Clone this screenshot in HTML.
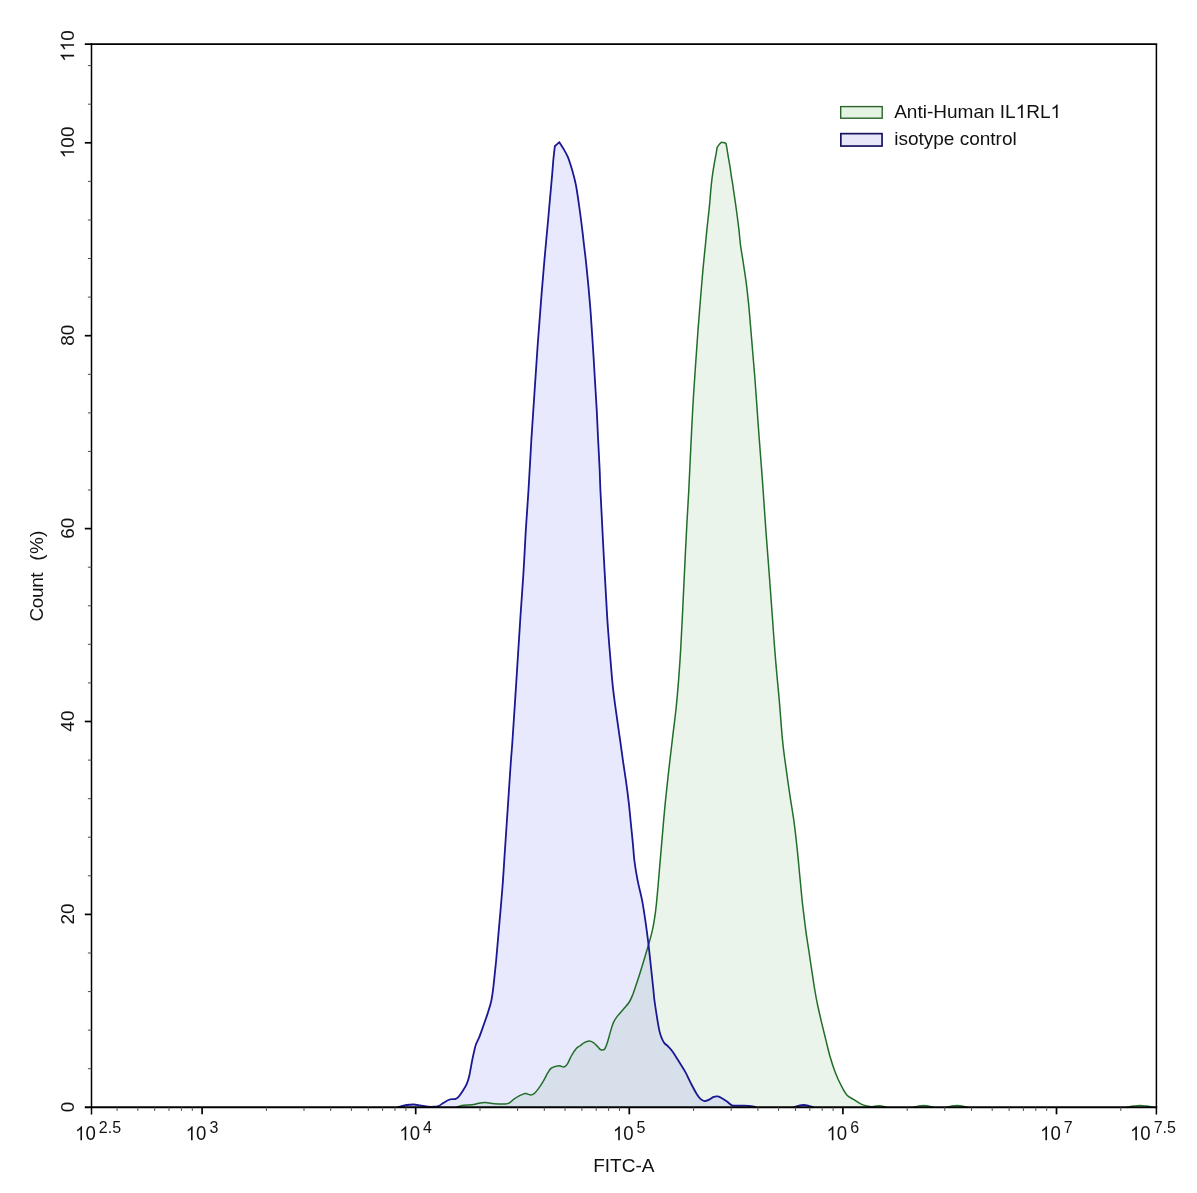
<!DOCTYPE html>
<html>
<head>
<meta charset="utf-8">
<title>FITC-A histogram</title>
<style>
html,body{margin:0;padding:0;background:#fff;}
body{width:1197px;height:1193px;overflow:hidden;font-family:"Liberation Sans",sans-serif;}
svg{display:block;will-change:transform;transform:translateZ(0);}
text{font-family:"Liberation Sans",sans-serif;}
</style>
</head>
<body>
<svg width="1197" height="1193" viewBox="0 0 1197 1193">
<rect width="1197" height="1193" fill="#fff"/>
<path d="M456.8 1107.0C457.9 1106.7 461.0 1105.7 463.5 1105.3C466.0 1104.9 469.4 1105.1 471.9 1104.8C474.4 1104.5 476.5 1103.7 478.6 1103.3C480.7 1102.9 482.4 1102.4 484.4 1102.4C486.3 1102.4 487.9 1103.0 490.3 1103.3C492.7 1103.6 496.1 1103.9 498.6 1104.0C501.1 1104.1 503.5 1104.2 505.3 1104.0C507.1 1103.8 508.1 1103.6 509.5 1102.8C510.9 1102.0 512.1 1100.5 513.6 1099.4C515.1 1098.3 517.0 1097.0 518.7 1096.1C520.4 1095.2 522.5 1094.3 523.7 1093.9C525.0 1093.5 525.1 1093.4 526.2 1093.6C527.3 1093.8 529.1 1094.9 530.4 1094.9C531.6 1095.0 532.5 1094.8 533.7 1093.9C535.0 1093.0 536.4 1091.4 537.9 1089.4C539.4 1087.4 541.2 1084.7 542.9 1081.9C544.6 1079.1 546.5 1075.0 547.9 1072.7C549.3 1070.4 550.0 1069.2 551.2 1068.2C552.5 1067.2 554.0 1066.8 555.4 1066.4C556.8 1066.0 558.2 1065.6 559.6 1065.7C561.0 1065.8 562.5 1067.1 563.8 1066.9C565.0 1066.7 565.9 1066.2 567.1 1064.4C568.4 1062.6 569.8 1058.7 571.3 1056.0C572.8 1053.3 574.8 1050.2 576.3 1048.5C577.8 1046.8 579.2 1046.5 580.5 1045.5C581.8 1044.5 582.8 1043.3 584.2 1042.6C585.7 1041.8 587.7 1041.0 589.2 1041.0C590.7 1041.0 592.0 1041.7 593.4 1042.6C594.8 1043.5 596.2 1045.3 597.5 1046.5C598.8 1047.7 599.7 1049.4 600.9 1049.8C602.1 1050.2 603.6 1050.3 604.7 1049.0C605.8 1047.7 606.6 1045.0 607.6 1041.8C608.6 1038.6 609.9 1033.3 610.9 1030.1C611.9 1026.9 612.3 1025.0 613.4 1022.6C614.5 1020.2 615.9 1018.1 617.6 1015.9C619.3 1013.7 621.5 1011.5 623.4 1009.2C625.3 1006.9 627.8 1004.4 629.3 1002.0C630.8 999.6 631.8 997.0 632.6 995.0C633.5 993.0 633.0 994.1 634.4 990.0C635.8 985.9 638.6 977.6 640.8 970.5C643.0 963.4 645.8 954.1 647.7 947.5C649.6 940.9 651.0 936.7 652.3 930.7C653.6 924.8 654.5 919.1 655.5 911.8C656.5 904.5 657.2 895.4 658.0 886.7C658.8 878.0 659.5 868.8 660.3 859.4C661.1 850.0 661.9 840.6 662.8 830.1C663.7 819.6 664.8 807.1 665.9 796.6C667.0 786.1 668.0 776.6 669.1 767.2C670.2 757.8 671.2 749.5 672.3 740.0C673.4 730.5 674.8 720.2 675.9 710.0C677.0 699.8 677.9 689.1 678.7 678.6C679.5 668.1 680.2 657.7 680.8 647.2C681.4 636.7 681.9 626.2 682.4 615.7C682.9 605.2 683.4 594.8 683.9 584.3C684.4 573.8 684.9 563.4 685.4 552.9C685.9 542.4 686.4 531.9 687.0 521.4C687.6 510.9 688.2 502.0 688.8 490.0C689.4 478.0 690.0 463.3 690.7 449.6C691.4 435.9 692.0 421.6 692.8 407.6C693.6 393.6 694.6 378.6 695.5 365.7C696.4 352.8 697.2 341.3 698.0 330.1C698.8 318.9 699.7 308.5 700.5 298.7C701.3 288.9 702.0 280.3 702.8 271.4C703.6 262.4 704.7 252.0 705.4 245.0C706.1 238.0 706.2 236.2 706.9 229.4C707.6 222.6 709.0 211.0 709.6 204.4C710.2 197.8 710.4 194.4 710.8 190.0C711.2 185.6 711.6 181.5 712.1 177.8C712.6 174.1 713.1 170.8 713.6 167.7C714.1 164.6 714.6 161.8 715.1 159.2C715.6 156.6 716.1 154.0 716.4 152.1C716.7 150.2 717.0 148.3 717.1 147.6C717.4 147.1 718.4 145.5 719.1 144.6C719.8 143.7 721.0 142.7 721.4 142.3C721.8 142.4 722.9 142.4 723.7 142.6C724.5 142.8 725.7 143.5 726.1 143.7C726.3 144.8 726.8 147.7 727.2 150.1C727.6 152.5 728.0 155.4 728.5 158.2C729.0 161.0 729.5 163.8 730.0 166.7C730.5 169.5 730.8 172.6 731.2 175.3C731.6 178.0 732.1 180.4 732.5 182.8C732.9 185.2 732.9 185.7 733.5 190.0C734.1 194.3 735.3 201.9 736.2 208.5C737.1 215.1 738.2 223.3 738.9 229.4C739.6 235.5 739.8 239.7 740.5 245.0C741.2 250.3 742.1 254.8 743.0 261.0C743.9 267.1 745.2 274.9 746.1 281.9C747.0 288.9 747.7 295.2 748.5 302.9C749.3 310.6 750.0 319.6 750.7 328.0C751.4 336.4 752.1 344.8 752.8 353.2C753.5 361.6 754.2 369.2 754.9 378.3C755.6 387.4 756.3 397.8 757.0 407.6C757.7 417.4 758.4 427.6 759.1 437.0C759.8 446.4 760.5 455.4 761.2 464.2C761.9 473.0 762.3 478.7 763.1 490.0C763.9 501.3 765.0 517.9 766.0 531.9C767.0 545.9 768.2 559.8 769.2 573.8C770.2 587.8 771.3 601.7 772.3 615.7C773.3 629.7 774.2 643.6 775.4 657.6C776.5 671.6 778.0 685.9 779.2 699.6C780.4 713.3 781.4 728.7 782.5 740.0C783.6 751.3 784.6 757.8 785.9 767.2C787.2 776.6 788.7 787.2 790.1 796.6C791.5 806.0 793.1 814.7 794.3 823.8C795.5 832.9 796.4 842.0 797.4 851.1C798.4 860.2 799.1 869.2 800.0 878.3C800.9 887.4 801.7 896.8 802.7 905.5C803.7 914.2 804.8 923.0 805.8 930.7C806.8 938.4 808.0 944.7 809.0 951.7C810.0 958.7 811.1 966.2 812.1 972.6C813.1 979.0 813.9 984.6 814.8 990.0C815.7 995.4 816.4 999.4 817.6 1005.0C818.8 1010.6 820.4 1017.5 821.8 1023.4C823.2 1029.2 824.5 1034.5 825.9 1040.1C827.3 1045.7 828.6 1051.5 830.1 1056.8C831.6 1062.1 833.3 1067.2 835.1 1071.9C836.9 1076.6 839.0 1081.4 841.0 1085.2C843.0 1089.0 844.7 1092.5 846.8 1094.9C848.9 1097.3 851.3 1098.0 853.5 1099.4C855.7 1100.9 858.0 1102.5 860.2 1103.6C862.4 1104.7 864.9 1105.6 866.9 1106.1C868.9 1106.6 870.0 1106.8 872.0 1106.8C874.0 1106.8 876.3 1105.8 878.6 1105.8C880.9 1105.8 884.8 1106.8 886.0 1107.0L886.0 1107.3 L456.8 1107.3 Z" fill="rgba(45,150,45,0.10)" stroke="none"/>
<path d="M914.0 1107.2C914.8 1107.0 917.4 1106.3 919.0 1106.0C920.6 1105.7 922.2 1105.5 923.7 1105.5C925.2 1105.5 926.5 1105.7 928.0 1106.0C929.5 1106.3 932.2 1107.0 933.0 1107.2L933.0 1107.3 L914.0 1107.3 Z" fill="rgba(45,150,45,0.10)" stroke="none"/>
<path d="M947.0 1107.2C947.8 1107.0 950.3 1106.3 952.0 1106.0C953.7 1105.7 955.4 1105.5 957.1 1105.5C958.8 1105.5 960.4 1105.7 962.0 1106.0C963.6 1106.3 966.2 1107.0 967.0 1107.2L967.0 1107.3 L947.0 1107.3 Z" fill="rgba(45,150,45,0.10)" stroke="none"/>
<path d="M1127.0 1107.2C1128.2 1107.0 1131.8 1106.3 1134.0 1106.0C1136.2 1105.7 1138.0 1105.4 1140.0 1105.4C1142.0 1105.4 1143.8 1105.7 1146.0 1106.0C1148.2 1106.3 1151.8 1107.0 1153.0 1107.2L1153.0 1107.3 L1127.0 1107.3 Z" fill="rgba(45,150,45,0.10)" stroke="none"/>
<path d="M398.4 1107.0C399.8 1106.7 404.2 1105.4 406.7 1105.0C409.2 1104.6 411.2 1104.5 413.4 1104.5C415.6 1104.5 417.9 1105.0 420.0 1105.3C422.1 1105.6 423.9 1106.2 425.9 1106.5C427.9 1106.8 429.9 1106.9 432.0 1106.8C434.1 1106.7 436.6 1106.8 438.5 1106.1C440.4 1105.4 441.8 1103.8 443.5 1102.8C445.2 1101.8 447.1 1100.6 448.5 1100.0C449.9 1099.4 450.7 1099.2 451.8 1099.1C452.9 1098.9 454.1 1099.5 455.2 1099.1C456.3 1098.7 457.2 1098.2 458.5 1096.9C459.8 1095.6 461.3 1093.3 462.7 1091.1C464.1 1088.9 465.8 1086.2 466.9 1083.6C468.0 1080.9 468.6 1078.8 469.4 1075.2C470.2 1071.6 471.1 1066.0 471.9 1061.8C472.7 1057.6 473.7 1053.1 474.4 1050.2C475.1 1047.3 475.2 1046.5 476.0 1044.3C476.8 1042.1 478.1 1040.0 479.4 1036.8C480.7 1033.6 482.2 1029.0 483.6 1025.1C485.0 1021.2 486.4 1017.3 487.7 1013.4C488.9 1009.5 490.2 1005.6 491.1 1001.7C492.0 997.8 492.1 997.0 493.0 990.0C493.9 983.0 495.1 970.9 496.2 960.0C497.2 949.1 498.2 936.6 499.3 924.4C500.4 912.2 501.6 898.2 502.5 886.7C503.4 875.2 503.9 865.8 504.6 855.3C505.3 844.8 506.0 834.3 506.7 823.8C507.4 813.3 508.1 802.9 508.8 792.4C509.5 781.9 510.3 769.7 510.9 761.0C511.5 752.3 511.6 753.7 512.5 740.0C513.4 726.3 515.2 699.3 516.5 678.6C517.8 657.9 519.4 633.2 520.5 615.7C521.6 598.2 522.5 587.8 523.4 573.8C524.3 559.8 524.9 545.9 525.7 531.9C526.6 517.9 527.5 505.5 528.5 490.0C529.5 474.5 530.4 455.6 531.4 439.1C532.4 422.6 533.5 406.6 534.6 390.9C535.7 375.2 536.7 359.5 537.7 344.8C538.8 330.1 539.9 316.2 540.9 302.9C541.9 289.6 543.2 274.8 544.0 265.1C544.8 255.5 545.1 252.7 545.8 245.0C546.5 237.3 547.4 228.2 548.2 219.0C549.0 209.8 550.1 197.3 550.8 190.0C551.4 182.7 551.7 179.9 552.1 175.3C552.5 170.8 552.8 166.5 553.1 162.7C553.4 158.9 553.8 155.4 554.1 152.6C554.4 149.8 554.8 147.2 554.9 146.1C555.6 145.5 558.6 142.9 559.4 142.3C560.1 143.4 562.3 146.7 563.7 149.1C565.1 151.5 566.5 154.0 567.7 156.7C568.9 159.4 569.8 162.3 570.7 165.2C571.6 168.0 572.5 171.0 573.2 173.8C574.0 176.6 574.6 179.1 575.2 181.8C575.8 184.5 576.1 185.6 576.8 190.0C577.5 194.4 578.6 201.9 579.5 208.5C580.4 215.1 581.5 223.3 582.2 229.4C583.0 235.5 583.4 239.7 584.0 245.0C584.6 250.3 585.2 254.2 585.9 261.0C586.6 267.9 587.6 277.4 588.4 286.1C589.2 294.8 590.0 303.5 590.7 313.3C591.4 323.1 592.1 334.3 592.8 344.8C593.5 355.3 594.1 365.7 594.7 376.2C595.3 386.7 596.0 397.1 596.6 407.6C597.2 418.1 597.6 429.3 598.1 439.1C598.6 448.9 599.1 457.8 599.5 466.3C599.9 474.8 600.0 480.8 600.4 490.0C600.8 499.2 601.5 510.9 602.0 521.4C602.5 531.9 603.0 541.4 603.6 552.9C604.2 564.4 605.0 578.4 605.7 590.6C606.4 602.8 607.0 615.0 607.8 626.2C608.6 637.4 609.4 647.1 610.3 657.6C611.2 668.1 611.9 678.6 613.1 689.1C614.3 699.6 616.1 712.0 617.3 720.5C618.5 729.0 619.1 733.2 620.1 740.0C621.1 746.8 622.0 754.0 623.0 761.0C624.0 768.0 625.1 774.9 626.1 781.9C627.1 788.9 628.0 795.9 628.8 802.9C629.6 809.9 630.2 816.8 630.9 823.8C631.6 830.8 632.4 838.5 633.0 844.8C633.6 851.1 633.7 855.6 634.5 861.5C635.3 867.4 636.3 873.8 637.6 880.4C638.9 887.0 641.0 894.4 642.3 901.4C643.6 908.4 644.6 915.7 645.6 922.3C646.6 928.9 647.3 934.9 648.1 941.2C648.9 947.5 649.3 951.9 650.2 960.0C651.1 968.1 652.7 983.3 653.4 990.0C654.1 996.7 653.8 995.5 654.4 1000.0C655.0 1004.5 656.1 1011.6 656.9 1016.7C657.7 1021.9 658.6 1027.3 659.4 1030.9C660.2 1034.5 661.1 1036.5 661.9 1038.5C662.7 1040.5 663.3 1041.7 664.4 1043.1C665.5 1044.5 667.2 1045.3 668.6 1046.8C670.0 1048.2 671.0 1049.4 672.7 1051.8C674.4 1054.2 676.5 1057.7 678.6 1061.0C680.7 1064.3 683.1 1067.9 685.3 1071.9C687.5 1075.9 689.9 1081.5 691.9 1085.2C693.9 1089.0 695.5 1092.0 697.0 1094.4C698.5 1096.8 699.9 1098.3 701.1 1099.4C702.4 1100.5 703.2 1101.0 704.5 1101.1C705.8 1101.2 707.2 1100.6 708.7 1099.9C710.2 1099.2 712.2 1097.5 713.7 1096.9C715.2 1096.3 716.4 1096.2 717.8 1096.4C719.2 1096.6 720.5 1097.4 722.0 1098.3C723.5 1099.2 725.3 1100.4 727.0 1101.6C728.7 1102.8 729.8 1104.6 732.0 1105.3C734.2 1106.0 737.6 1105.5 740.4 1105.6C743.2 1105.7 746.3 1105.6 748.8 1105.8C751.3 1106.0 754.3 1106.8 755.4 1107.0L755.4 1107.3 L398.4 1107.3 Z" fill="rgba(50,50,235,0.105)" stroke="none"/>
<path d="M794.0 1107.2C794.8 1106.9 797.4 1106.0 799.0 1105.6C800.6 1105.2 801.9 1105.0 803.4 1105.0C804.9 1105.0 806.4 1105.2 808.0 1105.6C809.6 1106.0 812.2 1106.9 813.0 1107.2L813.0 1107.3 L794.0 1107.3 Z" fill="rgba(50,50,235,0.105)" stroke="none"/>
<g fill="none" stroke-linejoin="miter" stroke-linecap="round">
<path d="M456.8 1107.0C457.9 1106.7 461.0 1105.7 463.5 1105.3C466.0 1104.9 469.4 1105.1 471.9 1104.8C474.4 1104.5 476.5 1103.7 478.6 1103.3C480.7 1102.9 482.4 1102.4 484.4 1102.4C486.3 1102.4 487.9 1103.0 490.3 1103.3C492.7 1103.6 496.1 1103.9 498.6 1104.0C501.1 1104.1 503.5 1104.2 505.3 1104.0C507.1 1103.8 508.1 1103.6 509.5 1102.8C510.9 1102.0 512.1 1100.5 513.6 1099.4C515.1 1098.3 517.0 1097.0 518.7 1096.1C520.4 1095.2 522.5 1094.3 523.7 1093.9C525.0 1093.5 525.1 1093.4 526.2 1093.6C527.3 1093.8 529.1 1094.9 530.4 1094.9C531.6 1095.0 532.5 1094.8 533.7 1093.9C535.0 1093.0 536.4 1091.4 537.9 1089.4C539.4 1087.4 541.2 1084.7 542.9 1081.9C544.6 1079.1 546.5 1075.0 547.9 1072.7C549.3 1070.4 550.0 1069.2 551.2 1068.2C552.5 1067.2 554.0 1066.8 555.4 1066.4C556.8 1066.0 558.2 1065.6 559.6 1065.7C561.0 1065.8 562.5 1067.1 563.8 1066.9C565.0 1066.7 565.9 1066.2 567.1 1064.4C568.4 1062.6 569.8 1058.7 571.3 1056.0C572.8 1053.3 574.8 1050.2 576.3 1048.5C577.8 1046.8 579.2 1046.5 580.5 1045.5C581.8 1044.5 582.8 1043.3 584.2 1042.6C585.7 1041.8 587.7 1041.0 589.2 1041.0C590.7 1041.0 592.0 1041.7 593.4 1042.6C594.8 1043.5 596.2 1045.3 597.5 1046.5C598.8 1047.7 599.7 1049.4 600.9 1049.8C602.1 1050.2 603.6 1050.3 604.7 1049.0C605.8 1047.7 606.6 1045.0 607.6 1041.8C608.6 1038.6 609.9 1033.3 610.9 1030.1C611.9 1026.9 612.3 1025.0 613.4 1022.6C614.5 1020.2 615.9 1018.1 617.6 1015.9C619.3 1013.7 621.5 1011.5 623.4 1009.2C625.3 1006.9 627.8 1004.4 629.3 1002.0C630.8 999.6 631.8 997.0 632.6 995.0C633.5 993.0 633.0 994.1 634.4 990.0C635.8 985.9 638.6 977.6 640.8 970.5C643.0 963.4 645.8 954.1 647.7 947.5C649.6 940.9 651.0 936.7 652.3 930.7C653.6 924.8 654.5 919.1 655.5 911.8C656.5 904.5 657.2 895.4 658.0 886.7C658.8 878.0 659.5 868.8 660.3 859.4C661.1 850.0 661.9 840.6 662.8 830.1C663.7 819.6 664.8 807.1 665.9 796.6C667.0 786.1 668.0 776.6 669.1 767.2C670.2 757.8 671.2 749.5 672.3 740.0C673.4 730.5 674.8 720.2 675.9 710.0C677.0 699.8 677.9 689.1 678.7 678.6C679.5 668.1 680.2 657.7 680.8 647.2C681.4 636.7 681.9 626.2 682.4 615.7C682.9 605.2 683.4 594.8 683.9 584.3C684.4 573.8 684.9 563.4 685.4 552.9C685.9 542.4 686.4 531.9 687.0 521.4C687.6 510.9 688.2 502.0 688.8 490.0C689.4 478.0 690.0 463.3 690.7 449.6C691.4 435.9 692.0 421.6 692.8 407.6C693.6 393.6 694.6 378.6 695.5 365.7C696.4 352.8 697.2 341.3 698.0 330.1C698.8 318.9 699.7 308.5 700.5 298.7C701.3 288.9 702.0 280.3 702.8 271.4C703.6 262.4 704.7 252.0 705.4 245.0C706.1 238.0 706.2 236.2 706.9 229.4C707.6 222.6 709.0 211.0 709.6 204.4C710.2 197.8 710.4 194.4 710.8 190.0C711.2 185.6 711.6 181.5 712.1 177.8C712.6 174.1 713.1 170.8 713.6 167.7C714.1 164.6 714.6 161.8 715.1 159.2C715.6 156.6 716.1 154.0 716.4 152.1C716.7 150.2 717.0 148.3 717.1 147.6C717.4 147.1 718.4 145.5 719.1 144.6C719.8 143.7 721.0 142.7 721.4 142.3C721.8 142.4 722.9 142.4 723.7 142.6C724.5 142.8 725.7 143.5 726.1 143.7C726.3 144.8 726.8 147.7 727.2 150.1C727.6 152.5 728.0 155.4 728.5 158.2C729.0 161.0 729.5 163.8 730.0 166.7C730.5 169.5 730.8 172.6 731.2 175.3C731.6 178.0 732.1 180.4 732.5 182.8C732.9 185.2 732.9 185.7 733.5 190.0C734.1 194.3 735.3 201.9 736.2 208.5C737.1 215.1 738.2 223.3 738.9 229.4C739.6 235.5 739.8 239.7 740.5 245.0C741.2 250.3 742.1 254.8 743.0 261.0C743.9 267.1 745.2 274.9 746.1 281.9C747.0 288.9 747.7 295.2 748.5 302.9C749.3 310.6 750.0 319.6 750.7 328.0C751.4 336.4 752.1 344.8 752.8 353.2C753.5 361.6 754.2 369.2 754.9 378.3C755.6 387.4 756.3 397.8 757.0 407.6C757.7 417.4 758.4 427.6 759.1 437.0C759.8 446.4 760.5 455.4 761.2 464.2C761.9 473.0 762.3 478.7 763.1 490.0C763.9 501.3 765.0 517.9 766.0 531.9C767.0 545.9 768.2 559.8 769.2 573.8C770.2 587.8 771.3 601.7 772.3 615.7C773.3 629.7 774.2 643.6 775.4 657.6C776.5 671.6 778.0 685.9 779.2 699.6C780.4 713.3 781.4 728.7 782.5 740.0C783.6 751.3 784.6 757.8 785.9 767.2C787.2 776.6 788.7 787.2 790.1 796.6C791.5 806.0 793.1 814.7 794.3 823.8C795.5 832.9 796.4 842.0 797.4 851.1C798.4 860.2 799.1 869.2 800.0 878.3C800.9 887.4 801.7 896.8 802.7 905.5C803.7 914.2 804.8 923.0 805.8 930.7C806.8 938.4 808.0 944.7 809.0 951.7C810.0 958.7 811.1 966.2 812.1 972.6C813.1 979.0 813.9 984.6 814.8 990.0C815.7 995.4 816.4 999.4 817.6 1005.0C818.8 1010.6 820.4 1017.5 821.8 1023.4C823.2 1029.2 824.5 1034.5 825.9 1040.1C827.3 1045.7 828.6 1051.5 830.1 1056.8C831.6 1062.1 833.3 1067.2 835.1 1071.9C836.9 1076.6 839.0 1081.4 841.0 1085.2C843.0 1089.0 844.7 1092.5 846.8 1094.9C848.9 1097.3 851.3 1098.0 853.5 1099.4C855.7 1100.9 858.0 1102.5 860.2 1103.6C862.4 1104.7 864.9 1105.6 866.9 1106.1C868.9 1106.6 870.0 1106.8 872.0 1106.8C874.0 1106.8 876.3 1105.8 878.6 1105.8C880.9 1105.8 884.8 1106.8 886.0 1107.0" stroke="#216e28" stroke-width="1.5"/>
<path d="M914.0 1107.2C914.8 1107.0 917.4 1106.3 919.0 1106.0C920.6 1105.7 922.2 1105.5 923.7 1105.5C925.2 1105.5 926.5 1105.7 928.0 1106.0C929.5 1106.3 932.2 1107.0 933.0 1107.2" stroke="#216e28" stroke-width="1.5"/>
<path d="M947.0 1107.2C947.8 1107.0 950.3 1106.3 952.0 1106.0C953.7 1105.7 955.4 1105.5 957.1 1105.5C958.8 1105.5 960.4 1105.7 962.0 1106.0C963.6 1106.3 966.2 1107.0 967.0 1107.2" stroke="#216e28" stroke-width="1.5"/>
<path d="M1127.0 1107.2C1128.2 1107.0 1131.8 1106.3 1134.0 1106.0C1136.2 1105.7 1138.0 1105.4 1140.0 1105.4C1142.0 1105.4 1143.8 1105.7 1146.0 1106.0C1148.2 1106.3 1151.8 1107.0 1153.0 1107.2" stroke="#216e28" stroke-width="1.5"/>
<path d="M398.4 1107.0C399.8 1106.7 404.2 1105.4 406.7 1105.0C409.2 1104.6 411.2 1104.5 413.4 1104.5C415.6 1104.5 417.9 1105.0 420.0 1105.3C422.1 1105.6 423.9 1106.2 425.9 1106.5C427.9 1106.8 429.9 1106.9 432.0 1106.8C434.1 1106.7 436.6 1106.8 438.5 1106.1C440.4 1105.4 441.8 1103.8 443.5 1102.8C445.2 1101.8 447.1 1100.6 448.5 1100.0C449.9 1099.4 450.7 1099.2 451.8 1099.1C452.9 1098.9 454.1 1099.5 455.2 1099.1C456.3 1098.7 457.2 1098.2 458.5 1096.9C459.8 1095.6 461.3 1093.3 462.7 1091.1C464.1 1088.9 465.8 1086.2 466.9 1083.6C468.0 1080.9 468.6 1078.8 469.4 1075.2C470.2 1071.6 471.1 1066.0 471.9 1061.8C472.7 1057.6 473.7 1053.1 474.4 1050.2C475.1 1047.3 475.2 1046.5 476.0 1044.3C476.8 1042.1 478.1 1040.0 479.4 1036.8C480.7 1033.6 482.2 1029.0 483.6 1025.1C485.0 1021.2 486.4 1017.3 487.7 1013.4C488.9 1009.5 490.2 1005.6 491.1 1001.7C492.0 997.8 492.1 997.0 493.0 990.0C493.9 983.0 495.1 970.9 496.2 960.0C497.2 949.1 498.2 936.6 499.3 924.4C500.4 912.2 501.6 898.2 502.5 886.7C503.4 875.2 503.9 865.8 504.6 855.3C505.3 844.8 506.0 834.3 506.7 823.8C507.4 813.3 508.1 802.9 508.8 792.4C509.5 781.9 510.3 769.7 510.9 761.0C511.5 752.3 511.6 753.7 512.5 740.0C513.4 726.3 515.2 699.3 516.5 678.6C517.8 657.9 519.4 633.2 520.5 615.7C521.6 598.2 522.5 587.8 523.4 573.8C524.3 559.8 524.9 545.9 525.7 531.9C526.6 517.9 527.5 505.5 528.5 490.0C529.5 474.5 530.4 455.6 531.4 439.1C532.4 422.6 533.5 406.6 534.6 390.9C535.7 375.2 536.7 359.5 537.7 344.8C538.8 330.1 539.9 316.2 540.9 302.9C541.9 289.6 543.2 274.8 544.0 265.1C544.8 255.5 545.1 252.7 545.8 245.0C546.5 237.3 547.4 228.2 548.2 219.0C549.0 209.8 550.1 197.3 550.8 190.0C551.4 182.7 551.7 179.9 552.1 175.3C552.5 170.8 552.8 166.5 553.1 162.7C553.4 158.9 553.8 155.4 554.1 152.6C554.4 149.8 554.8 147.2 554.9 146.1C555.6 145.5 558.6 142.9 559.4 142.3C560.1 143.4 562.3 146.7 563.7 149.1C565.1 151.5 566.5 154.0 567.7 156.7C568.9 159.4 569.8 162.3 570.7 165.2C571.6 168.0 572.5 171.0 573.2 173.8C574.0 176.6 574.6 179.1 575.2 181.8C575.8 184.5 576.1 185.6 576.8 190.0C577.5 194.4 578.6 201.9 579.5 208.5C580.4 215.1 581.5 223.3 582.2 229.4C583.0 235.5 583.4 239.7 584.0 245.0C584.6 250.3 585.2 254.2 585.9 261.0C586.6 267.9 587.6 277.4 588.4 286.1C589.2 294.8 590.0 303.5 590.7 313.3C591.4 323.1 592.1 334.3 592.8 344.8C593.5 355.3 594.1 365.7 594.7 376.2C595.3 386.7 596.0 397.1 596.6 407.6C597.2 418.1 597.6 429.3 598.1 439.1C598.6 448.9 599.1 457.8 599.5 466.3C599.9 474.8 600.0 480.8 600.4 490.0C600.8 499.2 601.5 510.9 602.0 521.4C602.5 531.9 603.0 541.4 603.6 552.9C604.2 564.4 605.0 578.4 605.7 590.6C606.4 602.8 607.0 615.0 607.8 626.2C608.6 637.4 609.4 647.1 610.3 657.6C611.2 668.1 611.9 678.6 613.1 689.1C614.3 699.6 616.1 712.0 617.3 720.5C618.5 729.0 619.1 733.2 620.1 740.0C621.1 746.8 622.0 754.0 623.0 761.0C624.0 768.0 625.1 774.9 626.1 781.9C627.1 788.9 628.0 795.9 628.8 802.9C629.6 809.9 630.2 816.8 630.9 823.8C631.6 830.8 632.4 838.5 633.0 844.8C633.6 851.1 633.7 855.6 634.5 861.5C635.3 867.4 636.3 873.8 637.6 880.4C638.9 887.0 641.0 894.4 642.3 901.4C643.6 908.4 644.6 915.7 645.6 922.3C646.6 928.9 647.3 934.9 648.1 941.2C648.9 947.5 649.3 951.9 650.2 960.0C651.1 968.1 652.7 983.3 653.4 990.0C654.1 996.7 653.8 995.5 654.4 1000.0C655.0 1004.5 656.1 1011.6 656.9 1016.7C657.7 1021.9 658.6 1027.3 659.4 1030.9C660.2 1034.5 661.1 1036.5 661.9 1038.5C662.7 1040.5 663.3 1041.7 664.4 1043.1C665.5 1044.5 667.2 1045.3 668.6 1046.8C670.0 1048.2 671.0 1049.4 672.7 1051.8C674.4 1054.2 676.5 1057.7 678.6 1061.0C680.7 1064.3 683.1 1067.9 685.3 1071.9C687.5 1075.9 689.9 1081.5 691.9 1085.2C693.9 1089.0 695.5 1092.0 697.0 1094.4C698.5 1096.8 699.9 1098.3 701.1 1099.4C702.4 1100.5 703.2 1101.0 704.5 1101.1C705.8 1101.2 707.2 1100.6 708.7 1099.9C710.2 1099.2 712.2 1097.5 713.7 1096.9C715.2 1096.3 716.4 1096.2 717.8 1096.4C719.2 1096.6 720.5 1097.4 722.0 1098.3C723.5 1099.2 725.3 1100.4 727.0 1101.6C728.7 1102.8 729.8 1104.6 732.0 1105.3C734.2 1106.0 737.6 1105.5 740.4 1105.6C743.2 1105.7 746.3 1105.6 748.8 1105.8C751.3 1106.0 754.3 1106.8 755.4 1107.0" stroke="#1a1892" stroke-width="1.8"/>
<path d="M794.0 1107.2C794.8 1106.9 797.4 1106.0 799.0 1105.6C800.6 1105.2 801.9 1105.0 803.4 1105.0C804.9 1105.0 806.4 1105.2 808.0 1105.6C809.6 1106.0 812.2 1106.9 813.0 1107.2" stroke="#1a1892" stroke-width="1.8"/>
</g>
<g stroke="#000" fill="none" stroke-linecap="butt">
<path d="M91.5 43.3 V1114.5" stroke-width="1.5"/>
<path d="M84.8 44.1 H1157.2" stroke-width="1.7"/>
<path d="M1156.4 44.1 V1114.5" stroke-width="1.5"/>
<path d="M84.8 1107.3 H1157.2" stroke-width="2.1"/>
<path d="M84.8 914.4 H91.5" stroke-width="1.7"/>
<path d="M84.8 721.5 H91.5" stroke-width="1.7"/>
<path d="M84.8 528.6 H91.5" stroke-width="1.7"/>
<path d="M84.8 335.7 H91.5" stroke-width="1.7"/>
<path d="M84.8 142.8 H91.5" stroke-width="1.7"/>
<path d="M87.9 1068.7 H91.5M87.9 1030.1 H91.5M87.9 991.6 H91.5M87.9 953.0 H91.5M87.9 875.8 H91.5M87.9 837.2 H91.5M87.9 798.7 H91.5M87.9 760.1 H91.5M87.9 682.9 H91.5M87.9 644.3 H91.5M87.9 605.8 H91.5M87.9 567.2 H91.5M87.9 490.0 H91.5M87.9 451.4 H91.5M87.9 412.9 H91.5M87.9 374.3 H91.5M87.9 297.1 H91.5M87.9 258.5 H91.5M87.9 220.0 H91.5M87.9 181.4 H91.5M87.9 104.2 H91.5M87.9 65.6 H91.5" stroke-width="1" stroke="#4a4a4a"/>
<path d="M202.1 1107.3 V1114.3" stroke-width="1.7"/>
<path d="M415.7 1107.3 V1114.3" stroke-width="1.7"/>
<path d="M629.3 1107.3 V1114.3" stroke-width="1.7"/>
<path d="M842.9 1107.3 V1114.3" stroke-width="1.7"/>
<path d="M1056.5 1107.3 V1114.3" stroke-width="1.7"/>
<path d="M117.1 1107.3 V1110.9M137.8 1107.3 V1110.9M154.7 1107.3 V1110.9M169.0 1107.3 V1110.9M181.4 1107.3 V1110.9M192.3 1107.3 V1110.9M266.4 1107.3 V1110.9M304.0 1107.3 V1110.9M330.7 1107.3 V1110.9M351.4 1107.3 V1110.9M368.3 1107.3 V1110.9M382.6 1107.3 V1110.9M395.0 1107.3 V1110.9M405.9 1107.3 V1110.9M480.0 1107.3 V1110.9M517.6 1107.3 V1110.9M544.3 1107.3 V1110.9M565.0 1107.3 V1110.9M581.9 1107.3 V1110.9M596.2 1107.3 V1110.9M608.6 1107.3 V1110.9M619.5 1107.3 V1110.9M693.6 1107.3 V1110.9M731.2 1107.3 V1110.9M757.9 1107.3 V1110.9M778.6 1107.3 V1110.9M795.5 1107.3 V1110.9M809.8 1107.3 V1110.9M822.2 1107.3 V1110.9M833.1 1107.3 V1110.9M907.2 1107.3 V1110.9M944.8 1107.3 V1110.9M971.5 1107.3 V1110.9M992.2 1107.3 V1110.9M1009.1 1107.3 V1110.9M1023.4 1107.3 V1110.9M1035.8 1107.3 V1110.9M1046.7 1107.3 V1110.9M1120.8 1107.3 V1110.9" stroke-width="1" stroke="#4a4a4a"/>
</g>
<g font-family="'Liberation Sans', sans-serif" style="font-kerning:none">
<g transform="translate(75.10 1140.20) scale(0.960 1)" font-size="19.40" fill="#111"><path transform="translate(0.00 0) scale(0.00947 -0.00947)" d="M763 0H583V1147Q518 1085 412.5 1023Q307 961 223 930V1104Q374 1175 487 1276Q600 1377 647 1472H763Z"/><text x="10.79" y="0" xml:space="preserve">0</text></g><g transform="translate(98.80 1133.20)" font-size="16.00" fill="#111"><text x="0.00" y="0" xml:space="preserve">2.5</text></g>
<g transform="translate(185.70 1140.20) scale(0.960 1)" font-size="19.40" fill="#111"><path transform="translate(0.00 0) scale(0.00947 -0.00947)" d="M763 0H583V1147Q518 1085 412.5 1023Q307 961 223 930V1104Q374 1175 487 1276Q600 1377 647 1472H763Z"/><text x="10.79" y="0" xml:space="preserve">0</text></g><g transform="translate(209.40 1133.20)" font-size="16.00" fill="#111"><text x="0.00" y="0" xml:space="preserve">3</text></g>
<g transform="translate(399.30 1140.20) scale(0.960 1)" font-size="19.40" fill="#111"><path transform="translate(0.00 0) scale(0.00947 -0.00947)" d="M763 0H583V1147Q518 1085 412.5 1023Q307 961 223 930V1104Q374 1175 487 1276Q600 1377 647 1472H763Z"/><text x="10.79" y="0" xml:space="preserve">0</text></g><g transform="translate(423.00 1133.20)" font-size="16.00" fill="#111"><text x="0.00" y="0" xml:space="preserve">4</text></g>
<g transform="translate(612.90 1140.20) scale(0.960 1)" font-size="19.40" fill="#111"><path transform="translate(0.00 0) scale(0.00947 -0.00947)" d="M763 0H583V1147Q518 1085 412.5 1023Q307 961 223 930V1104Q374 1175 487 1276Q600 1377 647 1472H763Z"/><text x="10.79" y="0" xml:space="preserve">0</text></g><g transform="translate(636.60 1133.20)" font-size="16.00" fill="#111"><text x="0.00" y="0" xml:space="preserve">5</text></g>
<g transform="translate(826.50 1140.20) scale(0.960 1)" font-size="19.40" fill="#111"><path transform="translate(0.00 0) scale(0.00947 -0.00947)" d="M763 0H583V1147Q518 1085 412.5 1023Q307 961 223 930V1104Q374 1175 487 1276Q600 1377 647 1472H763Z"/><text x="10.79" y="0" xml:space="preserve">0</text></g><g transform="translate(850.20 1133.20)" font-size="16.00" fill="#111"><text x="0.00" y="0" xml:space="preserve">6</text></g>
<g transform="translate(1040.10 1140.20) scale(0.960 1)" font-size="19.40" fill="#111"><path transform="translate(0.00 0) scale(0.00947 -0.00947)" d="M763 0H583V1147Q518 1085 412.5 1023Q307 961 223 930V1104Q374 1175 487 1276Q600 1377 647 1472H763Z"/><text x="10.79" y="0" xml:space="preserve">0</text></g><g transform="translate(1063.80 1133.20)" font-size="16.00" fill="#111"><text x="0.00" y="0" xml:space="preserve">7</text></g>
<g transform="translate(1130.00 1140.20) scale(0.960 1)" font-size="19.40" fill="#111"><path transform="translate(0.00 0) scale(0.00947 -0.00947)" d="M763 0H583V1147Q518 1085 412.5 1023Q307 961 223 930V1104Q374 1175 487 1276Q600 1377 647 1472H763Z"/><text x="10.79" y="0" xml:space="preserve">0</text></g><g transform="translate(1153.70 1133.20)" font-size="16.00" fill="#111"><text x="0.00" y="0" xml:space="preserve">7.5</text></g>
<g transform="translate(623.80 1171.60)" font-size="19.00" fill="#111"><text x="-30.61" y="0" xml:space="preserve">FITC-A</text></g>
<g transform="translate(74.10 1106.90) rotate(-90)" font-size="19.00" fill="#111"><text x="-5.28" y="0" xml:space="preserve">0</text></g>
<g transform="translate(74.10 914.00) rotate(-90)" font-size="19.00" fill="#111"><text x="-10.57" y="0" xml:space="preserve">20</text></g>
<g transform="translate(74.10 721.10) rotate(-90)" font-size="19.00" fill="#111"><text x="-10.57" y="0" xml:space="preserve">40</text></g>
<g transform="translate(74.10 528.20) rotate(-90)" font-size="19.00" fill="#111"><text x="-10.57" y="0" xml:space="preserve">60</text></g>
<g transform="translate(74.10 335.30) rotate(-90)" font-size="19.00" fill="#111"><text x="-10.57" y="0" xml:space="preserve">80</text></g>
<g transform="translate(74.10 142.40) rotate(-90)" font-size="19.00" fill="#111"><path transform="translate(-15.85 0) scale(0.00928 -0.00928)" d="M763 0H583V1147Q518 1085 412.5 1023Q307 961 223 930V1104Q374 1175 487 1276Q600 1377 647 1472H763Z"/><text x="-5.28" y="0" xml:space="preserve">00</text></g>
<g transform="translate(74.10 45.95) rotate(-90)" font-size="19.00" fill="#111"><path transform="translate(-15.85 0) scale(0.00928 -0.00928)" d="M763 0H583V1147Q518 1085 412.5 1023Q307 961 223 930V1104Q374 1175 487 1276Q600 1377 647 1472H763Z"/><path transform="translate(-5.28 0) scale(0.00928 -0.00928)" d="M763 0H583V1147Q518 1085 412.5 1023Q307 961 223 930V1104Q374 1175 487 1276Q600 1377 647 1472H763Z"/><text x="5.28" y="0" xml:space="preserve">0</text></g>
<g transform="translate(43.40 621.50) rotate(-90)" font-size="19.00" fill="#111"><text x="0.00" y="0" xml:space="preserve" letter-spacing="-0.40">Count</text></g>
<g transform="translate(43.40 560.70) rotate(-90)" font-size="19.00" fill="#111"><text x="0.00" y="0" xml:space="preserve" letter-spacing="0.25">(%)</text></g>
<g transform="translate(894.20 118.10)" font-size="19.00" fill="#111"><text x="0.00" y="0" xml:space="preserve">Anti-Human IL</text><path transform="translate(121.44 0) scale(0.00928 -0.00928)" d="M763 0H583V1147Q518 1085 412.5 1023Q307 961 223 930V1104Q374 1175 487 1276Q600 1377 647 1472H763Z"/><text x="132.01" y="0" xml:space="preserve">RL</text><path transform="translate(156.30 0) scale(0.00928 -0.00928)" d="M763 0H583V1147Q518 1085 412.5 1023Q307 961 223 930V1104Q374 1175 487 1276Q600 1377 647 1472H763Z"/></g>
<g transform="translate(894.20 145.20)" font-size="19.00" fill="#111"><text x="0.00" y="0" xml:space="preserve">isotype control</text></g>
</g>
<rect x="840.7" y="106.6" width="41.5" height="11.6" fill="#e4f4e2" stroke="#2a642a" stroke-width="1.4"/>
<rect x="840.85" y="133.65" width="41.2" height="12.4" fill="#e8e7fa" stroke="#17145e" stroke-width="1.7"/>
</svg>
</body>
</html>
